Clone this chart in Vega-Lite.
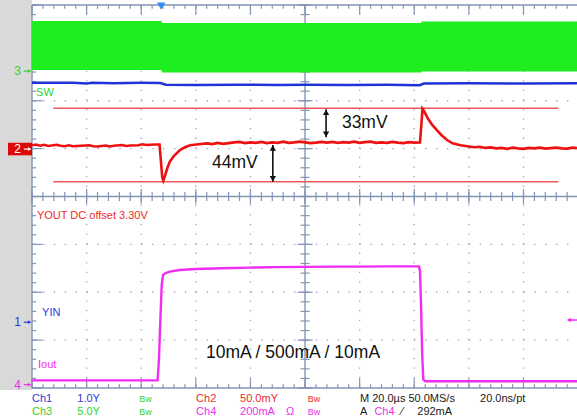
{
  "$schema": "https://vega.github.io/schema/vega-lite/v6.json",
  "width": 545,
  "height": 383,
  "autosize": {"type": "none"},
  "padding": {"left": 32, "top": 5, "right": 0, "bottom": 30},
  "background": "#ffffff",
  "config": {"view": {"stroke": null}, "axis": {"disable": true}, "legend": {"disable": true}, "font": "Liberation Sans"},
  "datasets": {
    "vg": [{"t": -80}, {"t": -60}, {"t": -40}, {"t": -20}, {"t": 20}, {"t": 40}, {"t": 60}, {"t": 80}],
    "hg": [{"d": -3}, {"d": -2}, {"d": -1}, {"d": 1}, {"d": 2}, {"d": 3}],
    "hframe": [{"d": 4}, {"d": 0}, {"d": -4}],
    "vframe": [{"t": -100}, {"t": 0}],
    "xt": [{"t":-100},{"t":-96},{"t":-92},{"t":-88},{"t":-84},{"t":-80},{"t":-76},{"t":-72},{"t":-68},{"t":-64},{"t":-60},{"t":-56},{"t":-52},{"t":-48},{"t":-44},{"t":-40},{"t":-36},{"t":-32},{"t":-28},{"t":-24},{"t":-20},{"t":-16},{"t":-12},{"t":-8},{"t":-4},{"t":0},{"t":4},{"t":8},{"t":12},{"t":16},{"t":20},{"t":24},{"t":28},{"t":32},{"t":36},{"t":40},{"t":44},{"t":48},{"t":52},{"t":56},{"t":60},{"t":64},{"t":68},{"t":72},{"t":76},{"t":80},{"t":84},{"t":88},{"t":92},{"t":96}],
    "yt": [{"d":-4},{"d":-3.8},{"d":-3.6},{"d":-3.4},{"d":-3.2},{"d":-3},{"d":-2.8},{"d":-2.6},{"d":-2.4},{"d":-2.2},{"d":-2},{"d":-1.8},{"d":-1.6},{"d":-1.4},{"d":-1.2},{"d":-1},{"d":-0.8},{"d":-0.6},{"d":-0.4},{"d":-0.2},{"d":0},{"d":0.2},{"d":0.4},{"d":0.6},{"d":0.8},{"d":1},{"d":1.2},{"d":1.4},{"d":1.6},{"d":1.8},{"d":2},{"d":2.2},{"d":2.4},{"d":2.6},{"d":2.8},{"d":3},{"d":3.2},{"d":3.4},{"d":3.6},{"d":3.8},{"d":4}],
    "sw": [
      {"t": -100, "top": 3.664, "bot": 2.641},
      {"t": -52.6, "top": 3.664, "bot": 2.641},
      {"t": -52.4, "top": 3.622, "bot": 2.59},
      {"t": 42.5, "top": 3.622, "bot": 2.59},
      {"t": 42.7, "top": 3.653, "bot": 2.61},
      {"t": 99.6, "top": 3.653, "bot": 2.61}
    ],
    "vin": [
      {"t": -100, "d": 2.375}, {"t": -85, "d": 2.375}, {"t": -80, "d": 2.362}, {"t": -78, "d": 2.375},
      {"t": -70, "d": 2.368}, {"t": -60, "d": 2.375}, {"t": -53, "d": 2.372}, {"t": -51, "d": 2.335},
      {"t": -40, "d": 2.33}, {"t": -25, "d": 2.336}, {"t": -10, "d": 2.328}, {"t": 0, "d": 2.333},
      {"t": 15, "d": 2.328}, {"t": 30, "d": 2.333}, {"t": 42, "d": 2.326}, {"t": 43.5, "d": 2.36},
      {"t": 60, "d": 2.365}, {"t": 80, "d": 2.36}, {"t": 99.6, "d": 2.365}
    ],
    "cur": [{"d": 1.845}, {"d": 0.31}],
    "vout": [
      {"t": -100, "d": 1.07}, {"t": -98.5, "d": 1.085}, {"t": -97, "d": 1.06}, {"t": -95.5, "d": 1.08}, {"t": -94, "d": 1.055}, {"t": -91, "d": 1.08},
      {"t": -89.5, "d": 1.06}, {"t": -88, "d": 1.05}, {"t": -86.5, "d": 1.07}, {"t": -85, "d": 1.05}, {"t": -82, "d": 1.06}, {"t": -79, "d": 1.07},
      {"t": -77.5, "d": 1.05}, {"t": -76, "d": 1.045}, {"t": -73, "d": 1.065}, {"t": -71.5, "d": 1.045}, {"t": -70, "d": 1.06}, {"t": -67, "d": 1.075},
      {"t": -65.5, "d": 1.055}, {"t": -64, "d": 1.065}, {"t": -61, "d": 1.07}, {"t": -59.5, "d": 1.09}, {"t": -58, "d": 1.075}, {"t": -55, "d": 1.085},
      {"t": -53.3, "d": 1.085}, {"t": -52.8, "d": 0.75}, {"t": -52.3, "d": 0.4}, {"t": -51.9, "d": 0.33},
      {"t": -51.2, "d": 0.45}, {"t": -50.4, "d": 0.6}, {"t": -49.5, "d": 0.73}, {"t": -48, "d": 0.85},
      {"t": -45.8, "d": 0.97}, {"t": -44, "d": 1.03}, {"t": -42.1, "d": 1.07}, {"t": -39, "d": 1.09},
      {"t": -36, "d": 1.11}, {"t": -34, "d": 1.095}, {"t": -32, "d": 1.12}, {"t": -30, "d": 1.1}, {"t": -28, "d": 1.115}, {"t": -26, "d": 1.13}, {"t": -24, "d": 1.14},
      {"t": -22, "d": 1.115}, {"t": -20, "d": 1.13}, {"t": -18, "d": 1.12}, {"t": -16, "d": 1.14}, {"t": -14, "d": 1.115}, {"t": -12, "d": 1.13}, {"t": -10, "d": 1.12}, {"t": -8, "d": 1.145},
      {"t": -6, "d": 1.12}, {"t": -4, "d": 1.13}, {"t": -2, "d": 1.145}, {"t": 0, "d": 1.13}, {"t": 2, "d": 1.115}, {"t": 4, "d": 1.125}, {"t": 6, "d": 1.14}, {"t": 8, "d": 1.125},
      {"t": 10, "d": 1.14}, {"t": 12, "d": 1.12}, {"t": 14, "d": 1.135}, {"t": 16, "d": 1.125}, {"t": 18, "d": 1.145}, {"t": 20, "d": 1.12}, {"t": 22, "d": 1.135}, {"t": 24, "d": 1.145},
      {"t": 26, "d": 1.12}, {"t": 28, "d": 1.13}, {"t": 30, "d": 1.12}, {"t": 32, "d": 1.14}, {"t": 34, "d": 1.125}, {"t": 36, "d": 1.115}, {"t": 38, "d": 1.135}, {"t": 40, "d": 1.125},
      {"t": 42.1, "d": 1.13}, {"t": 42.6, "d": 1.5}, {"t": 43.0, "d": 1.83}, {"t": 43.6, "d": 1.78},
      {"t": 45, "d": 1.63}, {"t": 46.5, "d": 1.5}, {"t": 48.2, "d": 1.39}, {"t": 50, "d": 1.28},
      {"t": 52, "d": 1.18}, {"t": 54, "d": 1.11}, {"t": 57, "d": 1.07}, {"t": 60, "d": 1.045},
      {"t": 62, "d": 1.03}, {"t": 64, "d": 1.04}, {"t": 66, "d": 1.015}, {"t": 68, "d": 1.025}, {"t": 70, "d": 1.005}, {"t": 72, "d": 1.015}, {"t": 74, "d": 0.995}, {"t": 76, "d": 1.02},
      {"t": 78, "d": 1.005}, {"t": 80, "d": 0.995}, {"t": 82, "d": 1.015}, {"t": 84, "d": 1.005}, {"t": 86, "d": 1.02}, {"t": 88, "d": 1.0}, {"t": 90, "d": 1.01}, {"t": 92, "d": 1.02},
      {"t": 94, "d": 1.005}, {"t": 96, "d": 1.0}, {"t": 98, "d": 1.02}, {"t": 99.6, "d": 1.01}
    ],
    "iout": [
      {"t": -100, "d": -3.84}, {"t": -54, "d": -3.84}, {"t": -53.5, "d": -3.4}, {"t": -53.0, "d": -2.6},
      {"t": -52.5, "d": -1.85}, {"t": -52, "d": -1.64}, {"t": -51, "d": -1.6}, {"t": -49.5, "d": -1.57},
      {"t": -46, "d": -1.535}, {"t": -40, "d": -1.515}, {"t": -30, "d": -1.5}, {"t": -20, "d": -1.485},
      {"t": -10, "d": -1.475}, {"t": 0, "d": -1.47}, {"t": 10, "d": -1.465}, {"t": 20, "d": -1.465},
      {"t": 30, "d": -1.46}, {"t": 41.7, "d": -1.46}, {"t": 42.1, "d": -1.55}, {"t": 42.5, "d": -2.3},
      {"t": 42.9, "d": -3.3}, {"t": 43.3, "d": -3.82}, {"t": 44, "d": -3.86}, {"t": 99.6, "d": -3.86}
    ],
    "arr": [{"t": 7.7, "top": 1.82, "bot": 1.236}, {"t": -11.8, "top": 1.075, "bot": 0.31}],
    "ann": [
      {"text": "33mV", "t": 13.5, "d": 1.53},
      {"text": "44mV", "t": -34.1, "d": 0.7},
      {"text": "10mA / 500mA / 10mA", "t": -36.3, "d": -3.27}
    ],
    "lab": [
      {"text": "SW", "ch": "3", "t": -98.5, "d": 2.17},
      {"text": "YOUT DC offset 3.30V", "ch": "2", "t": -98.2, "d": -0.407},
      {"text": "YIN", "ch": "1", "t": -96.3, "d": -2.426},
      {"text": "Iout", "ch": "4", "t": -97.8, "d": -3.52}
    ],
    "mk": [{"ch": "3", "d": 2.62}, {"ch": "2", "d": 0.99}, {"ch": "1", "d": -2.626}, {"ch": "4", "d": -3.93}],
    "st": [
      {"text": "Ch1", "ch": "1", "t": -100, "d": -4.235},
      {"text": "1.0Y", "ch": "1", "t": -83.4, "d": -4.235},
      {"text": "Bw", "ch": "3", "t": -60.7, "d": -4.235},
      {"text": "Ch2", "ch": "2", "t": -39.9, "d": -4.235},
      {"text": "50.0mY", "ch": "2", "t": -23.8, "d": -4.235},
      {"text": "Bw", "ch": "2", "t": 1.0, "d": -4.235},
      {"text": "M 20.0µs 50.0MS/s", "ch": "k", "t": 20.1, "d": -4.235},
      {"text": "20.0ns/pt", "ch": "k", "t": 64.1, "d": -4.235},
      {"text": "Ch3", "ch": "3", "t": -100, "d": -4.497},
      {"text": "5.0Y", "ch": "3", "t": -83.4, "d": -4.497},
      {"text": "Bw", "ch": "3", "t": -60.7, "d": -4.497},
      {"text": "Ch4", "ch": "4", "t": -39.9, "d": -4.497},
      {"text": "200mA", "ch": "4", "t": -23.8, "d": -4.497},
      {"text": "Ω", "ch": "4", "t": -7.0, "d": -4.497},
      {"text": "Bw", "ch": "4", "t": 1.0, "d": -4.497},
      {"text": "A", "ch": "k", "t": 20.1, "d": -4.497},
      {"text": "Ch4", "ch": "4", "t": 25.4, "d": -4.497},
      {"text": "⁄", "ch": "k", "t": 35.2, "d": -4.497},
      {"text": "292mA", "ch": "k", "t": 41.1, "d": -4.497}
    ]
  },
  "layer": [
    {"data": {"values": [{}]}, "mark": {"type": "rect", "color": "#d9d9d9", "opacity": 1},
     "encoding": {
       "x": {"datum": -115, "type": "quantitative", "scale": {"domain": [-100, 99.6], "nice": false, "zero": false}},
       "x2": {"datum": -100},
       "y": {"datum": 4.2, "type": "quantitative", "scale": {"domain": [-4, 4], "nice": false, "zero": false}},
       "y2": {"datum": -4.04}}},
    {"data": {"name": "vg"}, "mark": {"type": "rule", "color": "#9ea5b6", "strokeWidth": 1.3, "strokeDash": [1.3, 8.28]},
     "encoding": {"x": {"field": "t", "type": "quantitative"}, "y": {"datum": -4}, "y2": {"datum": 4}}},
    {"data": {"name": "hg"}, "mark": {"type": "rule", "color": "#9ea5b6", "strokeWidth": 1.3, "strokeDash": [1.3, 9.62]},
     "encoding": {"y": {"field": "d", "type": "quantitative"}, "x": {"datum": -100}, "x2": {"datum": 99.6}}},
    {"data": {"name": "hframe"}, "mark": {"type": "rule", "color": "#8494b6", "strokeWidth": 1.4},
     "encoding": {"y": {"field": "d", "type": "quantitative"}, "x": {"datum": -100}, "x2": {"datum": 99.6}}},
    {"data": {"name": "vframe"}, "mark": {"type": "rule", "color": "#8494b6", "strokeWidth": 1.4},
     "encoding": {"x": {"field": "t", "type": "quantitative"}, "y": {"datum": -4}, "y2": {"datum": 4}}},
    {"data": {"name": "xt"}, "mark": {"type": "tick", "orient": "vertical", "size": 9, "thickness": 1.2, "color": "#8494b6", "opacity": 1},
     "encoding": {"x": {"field": "t", "type": "quantitative"}, "y": {"datum": 0}}},
    {"data": {"name": "xt"}, "transform": [{"filter": "datum.t % 20 == 0"}],
     "mark": {"type": "tick", "orient": "vertical", "size": 15, "thickness": 1.2, "color": "#8494b6", "opacity": 1},
     "encoding": {"x": {"field": "t", "type": "quantitative"}, "y": {"datum": 0}}},
    {"data": {"name": "yt"}, "mark": {"type": "tick", "orient": "horizontal", "size": 9, "thickness": 1.2, "color": "#8494b6", "opacity": 1},
     "encoding": {"y": {"field": "d", "type": "quantitative"}, "x": {"datum": 0}}},
    {"data": {"name": "yt"}, "transform": [{"filter": "abs(datum.d - round(datum.d)) < 0.01"}],
     "mark": {"type": "tick", "orient": "horizontal", "size": 15, "thickness": 1.2, "color": "#8494b6", "opacity": 1},
     "encoding": {"y": {"field": "d", "type": "quantitative"}, "x": {"datum": 0}}},
    {"data": {"name": "xt"}, "mark": {"type": "rule", "color": "#8494b6", "strokeWidth": 1.2},
     "encoding": {"x": {"field": "t", "type": "quantitative"}, "y": {"datum": 4}, "y2": {"datum": 3.92}}},
    {"data": {"name": "xt"}, "transform": [{"filter": "datum.t % 20 == 0"}], "mark": {"type": "rule", "color": "#8494b6", "strokeWidth": 1.2},
     "encoding": {"x": {"field": "t", "type": "quantitative"}, "y": {"datum": 4}, "y2": {"datum": 3.8}}},
    {"data": {"name": "xt"}, "mark": {"type": "rule", "color": "#8494b6", "strokeWidth": 1.2},
     "encoding": {"x": {"field": "t", "type": "quantitative"}, "y": {"datum": -4}, "y2": {"datum": -3.92}}},
    {"data": {"name": "xt"}, "transform": [{"filter": "datum.t % 20 == 0"}], "mark": {"type": "rule", "color": "#8494b6", "strokeWidth": 1.2},
     "encoding": {"x": {"field": "t", "type": "quantitative"}, "y": {"datum": -4}, "y2": {"datum": -3.8}}},
    {"data": {"name": "yt"}, "mark": {"type": "rule", "color": "#8494b6", "strokeWidth": 1.2},
     "encoding": {"y": {"field": "d", "type": "quantitative"}, "x": {"datum": -100}, "x2": {"datum": -98.5}}},
    {"data": {"name": "yt"}, "transform": [{"filter": "abs(datum.d - round(datum.d)) < 0.01"}], "mark": {"type": "rule", "color": "#8494b6", "strokeWidth": 1.2},
     "encoding": {"y": {"field": "d", "type": "quantitative"}, "x": {"datum": -100}, "x2": {"datum": -96.2}}},
    {"data": {"name": "sw"}, "mark": {"type": "area", "color": "#1eee1e", "opacity": 1},
     "encoding": {"x": {"field": "t", "type": "quantitative"}, "y": {"field": "top", "type": "quantitative"}, "y2": {"field": "bot"}}},
    {"data": {"name": "vin"}, "mark": {"type": "line", "color": "#1f33d6", "strokeWidth": 2.5},
     "encoding": {"x": {"field": "t", "type": "quantitative"}, "y": {"field": "d", "type": "quantitative"}}},
    {"data": {"name": "cur"}, "mark": {"type": "rule", "color": "#f25555", "strokeWidth": 1.5},
     "encoding": {"y": {"field": "d", "type": "quantitative"}, "x": {"datum": -92.2}, "x2": {"datum": 92.8}}},
    {"data": {"name": "vout"}, "mark": {"type": "line", "color": "#ee1111", "strokeWidth": 2.6},
     "encoding": {"x": {"field": "t", "type": "quantitative"}, "y": {"field": "d", "type": "quantitative"}}},
    {"data": {"name": "iout"}, "mark": {"type": "line", "color": "#f02df0", "strokeWidth": 2.4},
     "encoding": {"x": {"field": "t", "type": "quantitative"}, "y": {"field": "d", "type": "quantitative"}}},
    {"data": {"name": "arr"}, "mark": {"type": "rule", "color": "#111111", "strokeWidth": 1.6},
     "encoding": {"x": {"field": "t", "type": "quantitative"}, "y": {"field": "top", "type": "quantitative"}, "y2": {"field": "bot"}}},
    {"data": {"name": "arr"}, "mark": {"type": "point", "shape": "triangle-up", "filled": true, "opacity": 1, "size": 40, "color": "#111111", "yOffset": 3},
     "encoding": {"x": {"field": "t", "type": "quantitative"}, "y": {"field": "top", "type": "quantitative"}}},
    {"data": {"name": "arr"}, "mark": {"type": "point", "shape": "triangle-down", "filled": true, "opacity": 1, "size": 40, "color": "#111111", "yOffset": -3},
     "encoding": {"x": {"field": "t", "type": "quantitative"}, "y": {"field": "bot", "type": "quantitative"}}},
    {"data": {"name": "ann"}, "mark": {"type": "text", "align": "left", "baseline": "middle", "fontSize": 17.5, "font": "Liberation Sans", "color": "#111111"},
     "encoding": {"x": {"field": "t", "type": "quantitative"}, "y": {"field": "d", "type": "quantitative"}, "text": {"field": "text"}}},
    {"data": {"name": "lab"}, "mark": {"type": "text", "align": "left", "baseline": "middle", "fontSize": 11, "font": "Liberation Sans"},
     "encoding": {"x": {"field": "t", "type": "quantitative"}, "y": {"field": "d", "type": "quantitative"}, "text": {"field": "text"},
       "color": {"field": "ch", "type": "nominal", "scale": {"domain": ["1", "2", "3", "4", "k"], "range": ["#2a3ad8", "#ee2a2a", "#2fd42f", "#ec30ec", "#1a1a1a"]}, "legend": null}}},
    {"data": {"values": [{}]}, "mark": {"type": "rect", "color": "#dd0808", "opacity": 1},
     "encoding": {"x": {"datum": -108.8}, "x2": {"datum": -100}, "y": {"datum": 1.123}, "y2": {"datum": 0.86}}},
    {"data": {"name": "mk"}, "mark": {"type": "text", "align": "center", "baseline": "middle", "fontSize": 12, "font": "Liberation Sans"},
     "encoding": {"x": {"datum": -105.3}, "y": {"field": "d", "type": "quantitative"}, "text": {"field": "ch"},
       "color": {"condition": {"test": "datum.ch == '2'", "value": "#ffffff"}, "field": "ch", "type": "nominal", "scale": {"domain": ["1", "2", "3", "4", "k"], "range": ["#2a3ad8", "#ee2a2a", "#2fd42f", "#ec30ec", "#1a1a1a"]}, "legend": null}}},
    {"data": {"name": "mk"}, "mark": {"type": "rule", "strokeWidth": 1.2},
     "encoding": {"x": {"datum": -103}, "x2": {"datum": -100.6}, "y": {"field": "d", "type": "quantitative"},
       "color": {"condition": {"test": "datum.ch == '2'", "value": "#ffffff"}, "field": "ch", "type": "nominal", "scale": {"domain": ["1", "2", "3", "4", "k"], "range": ["#2a3ad8", "#ee2a2a", "#2fd42f", "#ec30ec", "#1a1a1a"]}, "legend": null}}},
    {"data": {"name": "mk"}, "mark": {"type": "point", "shape": "triangle-right", "filled": true, "opacity": 1, "size": 14},
     "encoding": {"x": {"datum": -100.9}, "y": {"field": "d", "type": "quantitative"},
       "color": {"condition": {"test": "datum.ch == '2'", "value": "#ffffff"}, "field": "ch", "type": "nominal", "scale": {"domain": ["1", "2", "3", "4", "k"], "range": ["#2a3ad8", "#ee2a2a", "#2fd42f", "#ec30ec", "#1a1a1a"]}, "legend": null}}},
    {"data": {"values": [{}]}, "mark": {"type": "point", "shape": "triangle-down", "filled": true, "opacity": 1, "size": 70, "color": "#2f8ff0"},
     "encoding": {"x": {"datum": -52.7}, "y": {"datum": 3.975}}},
    {"data": {"values": [{}]}, "mark": {"type": "rule", "color": "#f02df0", "strokeWidth": 1.5},
     "encoding": {"x": {"datum": 96.3}, "x2": {"datum": 99.6}, "y": {"datum": -2.58}}},
    {"data": {"values": [{}]}, "mark": {"type": "point", "shape": "triangle-left", "filled": true, "opacity": 1, "size": 22, "color": "#f02df0"},
     "encoding": {"x": {"datum": 96.6}, "y": {"datum": -2.58}}},
    {"data": {"name": "st"}, "transform": [{"filter": "datum.text != 'Bw'"}],
     "mark": {"type": "text", "align": "left", "baseline": "middle", "fontSize": 11, "font": "Liberation Sans"},
     "encoding": {"x": {"field": "t", "type": "quantitative"}, "y": {"field": "d", "type": "quantitative"}, "text": {"field": "text"},
       "color": {"field": "ch", "type": "nominal", "scale": {"domain": ["1", "2", "3", "4", "k"], "range": ["#2a3ad8", "#ee2a2a", "#2fd42f", "#ec30ec", "#1a1a1a"]}, "legend": null}}},
    {"data": {"name": "st"}, "transform": [{"filter": "datum.text == 'Bw'"}],
     "mark": {"type": "text", "align": "left", "baseline": "middle", "fontSize": 9, "font": "Liberation Sans"},
     "encoding": {"x": {"field": "t", "type": "quantitative"}, "y": {"field": "d", "type": "quantitative"}, "text": {"field": "text"},
       "color": {"field": "ch", "type": "nominal", "scale": {"domain": ["1", "2", "3", "4", "k"], "range": ["#2a3ad8", "#ee2a2a", "#2fd42f", "#ec30ec", "#1a1a1a"]}, "legend": null}}}
  ]
}
